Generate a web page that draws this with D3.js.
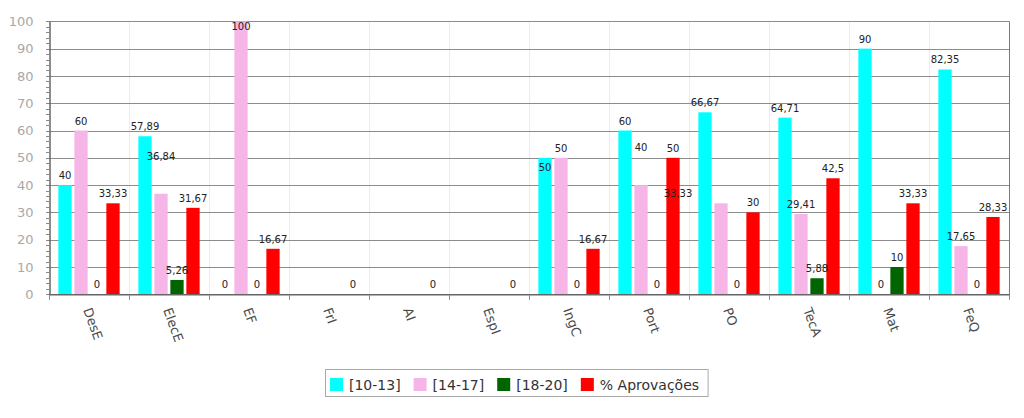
<!DOCTYPE html>
<html>
<head>
<meta charset="utf-8">
<script src="https://cdn.jsdelivr.net/npm/d3@7"></script>
<style>
  html, body { margin: 0; padding: 0; background: #fff; }
  svg { display: block; }
</style>
</head>
<body>
<svg id="chart" width="1024" height="418"></svg>
<script>
// ---- data ----
const categories = ["DesE", "ElecE", "EF", "FrI", "AI", "EspI", "IngC", "Port", "PO", "TecA", "Mat", "FeQ"];
const seriesNames = ["[10-13]", "[14-17]", "[18-20]", "% Aprovações"];
const s1013 = [40, 57.89, 0, null, null, null, 50, 60, 66.67, 64.71, 90, 82.35];
const s1417 = [60, 36.84, 100, null, null, null, 50, 40, 33.33, 29.41, 0, 17.65];
const s1820 = [0, 5.26, 0, null, null, null, 0, 0, 0, 5.88, 10, 0];
const sAprov = [33.33, 31.67, 16.67, 0, 0, 0, 16.67, 50, 30, 42.5, 33.33, 28.33];
const yTicks = [0, 10, 20, 30, 40, 50, 60, 70, 80, 90, 100];

const seriesValues = [s1013, s1417, s1820, sAprov];
const colors = ["#00FFFF", "#F5B5E6", "#006400", "#FF0000"];

// label placement tweaks (mimicking the original's collision handling)
const labelShift = {
  "ElecE|1": { dy: -28 },
  "Port|1": { dy: -28.5 },
  "PO|1": { dx: -43 },
  "IngC|0": { inside: 13 }
};

const svg = d3.select("#chart");
const pL = 49, pR = 1009, pT = 21.3, pB = 294.3;

const x = d3.scaleBand().domain(categories).range([pL, pR]).paddingInner(0).paddingOuter(0);
const xs = d3.scaleBand().domain(d3.range(4)).range([8, 72]).paddingInner(0.17).paddingOuter(0.085);
const y = d3.scaleLinear().domain([0, 100]).range([pB, pT]);

// faint vertical grid at category boundaries
svg.append("g").selectAll("line").data(categories.slice(1)).join("line")
  .attr("x1", d => x(d) + 0.5).attr("x2", d => x(d) + 0.5)
  .attr("y1", pT).attr("y2", pB)
  .attr("stroke", "#ececec").attr("stroke-width", 1);

// horizontal grid
svg.append("g").selectAll("line").data(yTicks.filter(t => t > 0)).join("line")
  .attr("x1", pL).attr("x2", pR)
  .attr("y1", d => Math.round(y(d)) + 0.5).attr("y2", d => Math.round(y(d)) + 0.5)
  .attr("stroke", "#8c8c8c").attr("stroke-width", 1);

// right border
svg.append("line").attr("x1", pR + 0.5).attr("x2", pR + 0.5)
  .attr("y1", pT).attr("y2", pB).attr("stroke", "#7a7a7a");

// bars
const flat = [];
categories.forEach((c, i) => {
  seriesValues.forEach((arr, s) => {
    if (arr[i] !== null) flat.push({ c, s, v: arr[i] });
  });
});

svg.append("g").selectAll("rect").data(flat.filter(d => d.v > 0)).join("rect")
  .attr("x", d => x(d.c) + xs(d.s))
  .attr("width", xs.bandwidth())
  .attr("y", d => y(d.v))
  .attr("height", d => pB - y(d.v))
  .attr("fill", d => colors[d.s]);

// y axis
const yAxis = svg.append("g").attr("transform", `translate(${pL + 0.5},0)`)
  .call(d3.axisLeft(y).tickValues(yTicks).tickSize(0).tickPadding(16).tickFormat(d3.format("d")));
yAxis.select(".domain").attr("stroke", "#666").attr("stroke-width", 1.5);
yAxis.selectAll("text").attr("fill", "#a8a8a8").attr("font-family", "DejaVu Sans").attr("font-size", 13);

// minor ticks on y axis
svg.append("g").selectAll("line").data(d3.range(0, 101, 2)).join("line")
  .attr("x1", pL - 3).attr("x2", pL)
  .attr("y1", d => Math.round(y(d)) + 0.5).attr("y2", d => Math.round(y(d)) + 0.5)
  .attr("stroke", "#888").attr("stroke-width", 1);

// x axis
const xAxisG = svg.append("g").attr("transform", `translate(0,${pB + 0.5})`);
xAxisG.append("line").attr("x1", pL).attr("x2", pR + 1).attr("y1", 0).attr("y2", 0)
  .attr("stroke", "#666").attr("stroke-width", 1.5);
xAxisG.selectAll("line.tk").data(categories.concat(["__end"])).join("line").attr("class", "tk")
  .attr("x1", d => (d === "__end" ? pR : x(d)) + 0.5)
  .attr("x2", d => (d === "__end" ? pR : x(d)) + 0.5)
  .attr("y1", 0).attr("y2", 5).attr("stroke", "#888");

xAxisG.selectAll("text").data(categories).join("text")
  .attr("transform", d => `translate(${x(d) + x.bandwidth() / 2 - 6},${15}) rotate(70)`)
  .attr("font-family", "DejaVu Sans").attr("font-size", 13).attr("fill", "#4a4a4a")
  .attr("text-anchor", "start")
  .text(d => d);

// value labels
const fmt = v => String(v).replace(".", ",");
svg.append("g").selectAll("text").data(flat).join("text")
  .attr("font-family", "DejaVu Sans").attr("font-size", 10).attr("fill", "#222")
  .attr("text-anchor", "middle")
  .attr("x", d => {
    const sh = labelShift[d.c + "|" + d.s] || {};
    return x(d.c) + xs(d.s) + xs.bandwidth() / 2 + (sh.dx || 0);
  })
  .attr("y", d => {
    const sh = labelShift[d.c + "|" + d.s] || {};
    const t = y(d.v);
    if (sh.inside) return t + sh.inside;
    if (t - 6 - 8 < pT) return t + 9;
    return t - 6 + (sh.dy || 0);
  })
  .text(d => fmt(d.v));

// legend
const lg = svg.append("g");
const box = lg.append("rect").attr("x", 325.5).attr("y", 369.5).attr("height", 27)
  .attr("fill", "#fff").attr("stroke", "#aaa");
let cx = 330;
seriesNames.forEach((n, i) => {
  lg.append("rect").attr("x", cx).attr("y", 378).attr("width", 13).attr("height", 13).attr("fill", colors[i]);
  const t = lg.append("text").attr("x", cx + 19).attr("y", 389.5)
    .attr("font-family", "DejaVu Sans").attr("font-size", 14).attr("fill", "#333").text(n);
  cx += 19 + t.node().getComputedTextLength() + 13;
});
box.attr("width", cx - 13 + 9 - 325.5);
</script>
</body>
</html>
